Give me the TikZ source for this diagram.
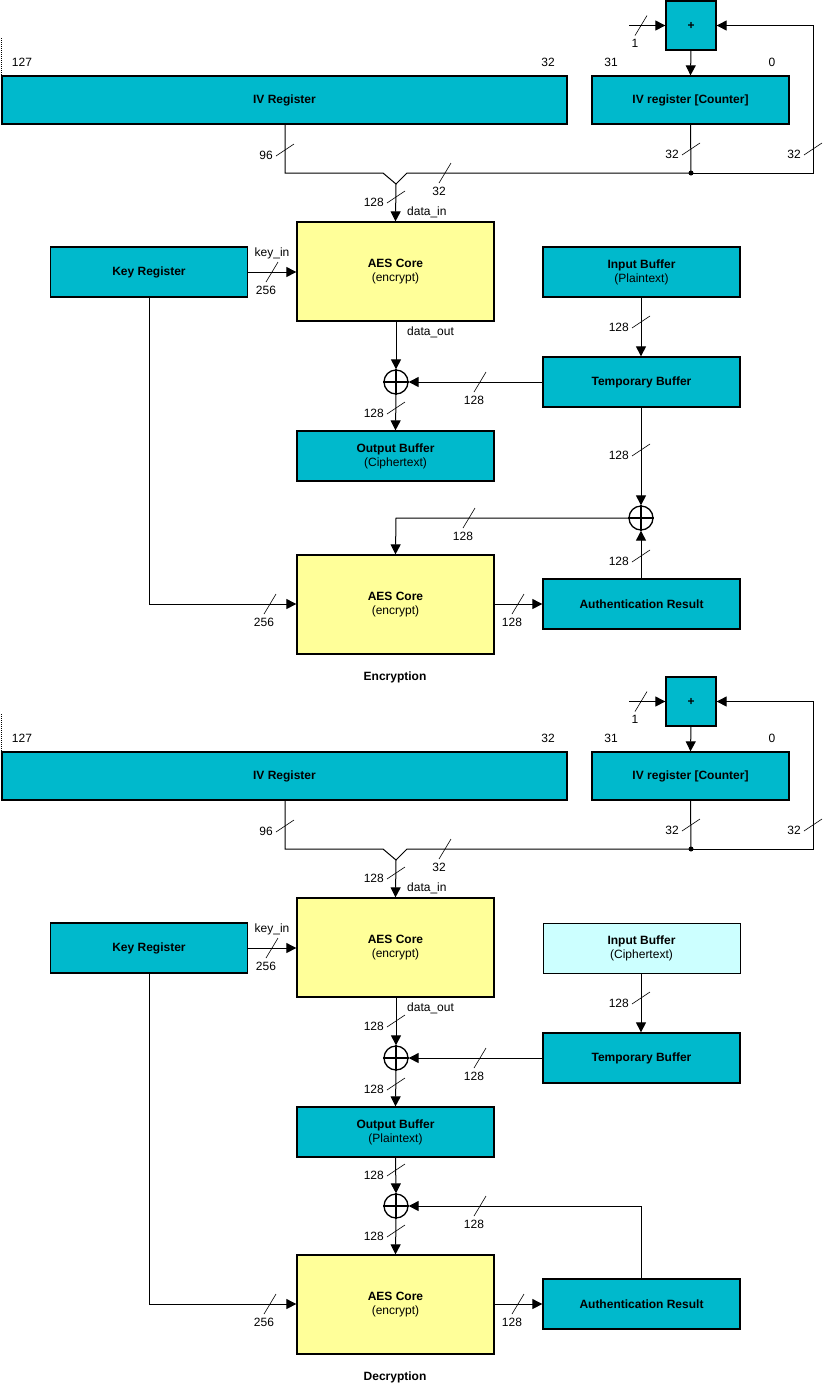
\documentclass[tikz,border=0pt]{standalone}
\usepackage{fontspec}
\setmainfont{Liberation Sans}
\usetikzlibrary{arrows.meta}
\definecolor{tealbox}{RGB}{0,185,204}
\definecolor{yelbox}{RGB}{255,255,153}
\definecolor{cyanbox}{RGB}{204,255,255}
\tikzset{
  blk/.style={draw=black, line width=1.3pt, fill=tealbox, inner sep=0pt, align=center,
    font=\fontsize{12}{14}\selectfont, text=black},
  aes/.style={blk, fill=yelbox, minimum width=197pt, minimum height=99pt},
  std/.style={blk, minimum width=197pt, minimum height=50pt},
  lbl/.style={font=\fontsize{12}{14}\selectfont, inner sep=1pt},
  wire/.style={line width=1pt},
  arr/.style={wire, -{Triangle[length=10pt,width=10pt]}},
  xorc/.style={circle, draw=black, line width=1.3pt, minimum size=24pt, inner sep=0pt},
  tick/.style={line width=0.6pt}
}
% vertical-line bus slash: x, y(centre), label
\newcommand\busv[3]{%
  \draw[tick] (#1-9,#2+6) -- (#1+9,#2-6);
  \node[lbl,anchor=east] at (#1-11,#2+5) {#3};}
% horizontal-line bus slash: x(centre), y, label
\newcommand\bush[3]{%
  \draw[tick] (#1-6,#2+10) -- (#1+6,#2-10);
  \node[lbl,anchor=north] at (#1-6,#2+13) {#3};}
\newcommand\xorcross[1]{%
  \draw[line width=1.3pt] (#1.north) -- (#1.south) (#1.west) -- (#1.east);}

\begin{document}
\begin{tikzpicture}[x=1pt,y=-1pt]
\useasboundingbox (0,0) rectangle (823,1385);

\foreach \dy/\name/\inname/\incol/\inlw in {0/E/Plaintext/tealbox/1.3pt, 676/D/Ciphertext/cyanbox/0.8pt}{
\begin{scope}[yshift=-\dy pt]
  % top part (identical)
  \draw[line width=0.6pt, dash pattern=on 1pt off 1pt] (1,38) -- (1,76);
  \node[std, minimum width=565pt, minimum height=48pt] (ivr\name) at (284.5,100) {\textbf{IV Register}};
  \node[std, minimum height=48pt] (ctr\name) at (690.5,100) {\textbf{IV register [Counter]}};
  \node[blk, minimum width=50pt, minimum height=49pt] (add\name) at (691,25.5) {\textbf{+}};
  \node[lbl] at (22,62) {127};
  \node[lbl] at (548,62) {32};
  \node[lbl] at (611,62) {31};
  \node[lbl] at (772,62) {0};

  \coordinate (in1\name) at (629,25.5);
  \draw[arr] (in1\name) -- (add\name.west);
  \bush{641}{25.5}{1}
  \draw[arr] (add\name.south) -- (ctr\name.north);

  \coordinate (dot\name) at (691,173);
  \coordinate (fbA\name) at (813,173);
  \coordinate (fbB\name) at (813,25.5);
  \coordinate (mL\name) at (383,173);
  \coordinate (mV\name) at (396,184);
  \coordinate (mR\name) at (407,173);
  \coordinate (ivd\name) at (285,173);

  \draw[wire] (ctr\name.south) -- (dot\name);
  \fill (dot\name) circle (2.5pt);
  \draw[arr] (dot\name) -- (fbA\name) -- (fbB\name) -- (add\name.east);
  \draw[wire] (ivr\name.south -| ivd\name) -- (ivd\name) -- (mL\name) -- (mV\name) -- (mR\name) -- (dot\name);
  \busv{285}{150}{96}
  \busv{691}{149}{32}
  \busv{813}{149}{32}
  \bush{445}{173}{32}

  \node[aes] (aes\name) at (395.5,271.5) {\textbf{AES Core}\\(encrypt)};
  \draw[arr] (mV\name) -- (aes\name.north);
  \busv{396}{197}{128}
  \node[lbl, anchor=west] at (406,212) {data\_in};

  \node[std] (key\name) at (149,272) {\textbf{Key Register}};
  \draw[arr] (key\name.east) -- (key\name.east -| aes\name.west);
  \node[lbl] at (272,253) {key\_in};
  \bush{272}{272}{256}

  \node[std, fill=\incol, line width=\inlw] (inb\name) at (641.5,272) {\textbf{Input Buffer}\\(\inname)};
  \node[std] (tmp\name) at (641.5,382) {\textbf{Temporary Buffer}};
  \draw[arr] (inb\name.south -| 641,0) -- (tmp\name.north -| 641,0);
  \busv{641}{322}{128}

  \node[lbl, anchor=west] at (406,332) {data\_out};
  \node[xorc] (x1\name) at (396,382) {};
  \xorcross{x1\name}
  \draw[arr] (aes\name.south -| x1\name) -- (x1\name.north);
  \draw[arr] (tmp\name.west) -- (x1\name.east);
  \bush{480}{382}{128}
\end{scope}
}

% ---------------- Encryption specific ----------------
\node[std] (outE) at (395.5,456) {\textbf{Output Buffer}\\(Ciphertext)};
\draw[arr] (x1E.south) -- (outE.north);
\busv{396}{408}{128}

\node[xorc] (x2E) at (641,518) {};
\xorcross{x2E}
\draw[arr] (tmpE.south -| x2E) -- (x2E.north);
\busv{641}{450}{128}

\node[aes] (aes2E) at (395.5,604.5) {\textbf{AES Core}\\(encrypt)};
\coordinate (cE) at (396,518);
\draw[arr] (x2E.west) -- (cE) -- (aes2E.north);
\bush{469}{518}{128}

\node[std] (authE) at (641.5,604) {\textbf{Authentication Result}};
\draw[arr] (authE.north -| x2E) -- (x2E.south);
\busv{641}{556}{128}

\coordinate (kE) at (149,604);
\draw[arr] (keyE.south) -- (kE) -- (aes2E.west |- kE);
\bush{270}{604}{256}
\draw[arr] (aes2E.east |- kE) -- (authE.west |- kE);
\bush{518}{604}{128}

\node[lbl, font=\fontsize{12}{14}\selectfont\bfseries] (capE) at (395,677) {Encryption};

% ---------------- Decryption specific ----------------
\busv{396}{1021}{128}

\node[std] (outD) at (395.5,1132) {\textbf{Output Buffer}\\(Plaintext)};
\draw[arr] (x1D.south) -- (outD.north);
\busv{396}{1084}{128}

\node[xorc] (x3D) at (396,1206) {};
\xorcross{x3D}
\draw[arr] (outD.south) -- (x3D.north);
\busv{396}{1170}{128}

\node[aes] (aes2D) at (395.5,1304.5) {\textbf{AES Core}\\(encrypt)};
\draw[arr] (x3D.south) -- (aes2D.north);
\busv{396}{1231}{128}

\node[std] (authD) at (641.5,1304) {\textbf{Authentication Result}};
\coordinate (aD) at (641,1206);
\draw[arr] (authD.north -| aD) -- (aD) -- (x3D.east);
\bush{480}{1206}{128}

\coordinate (kD) at (149,1304);
\draw[arr] (keyD.south) -- (kD) -- (aes2D.west |- kD);
\bush{270}{1304}{256}
\draw[arr] (aes2D.east |- kD) -- (authD.west |- kD);
\bush{518}{1304}{128}

\node[lbl, font=\fontsize{12}{14}\selectfont\bfseries] (capD) at (395,1377) {Decryption};
\end{tikzpicture}
\end{document}
